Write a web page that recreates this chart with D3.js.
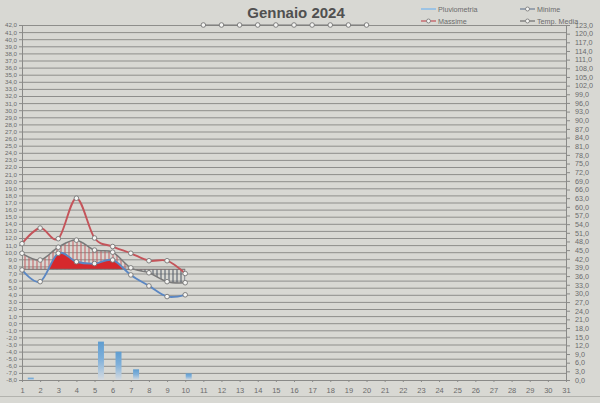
<!DOCTYPE html>
<html><head><meta charset="utf-8">
<script src="https://cdn.jsdelivr.net/npm/d3@7"></script>
<style>
body{margin:0;background:#d8d8d3;}
svg{display:block;font-family:"Liberation Sans",Arial,sans-serif;}
</style>
</head><body>
<svg id="c" width="600" height="403"></svg>
<script>
// ---- data ----
const days = d3.range(1, 32);
const dataDays = [1, 2, 3, 4, 5, 6, 7, 8, 9, 10];
const massime = [11.2, 13.4, 11.9, 17.6, 12.0, 10.8, 9.85, 8.8, 8.8, 7.0];
const minime  = [7.5, 5.85, 9.85, 8.65, 8.4, 8.9, 6.8, 5.25, 3.75, 4.0];
const media   = [9.85, 8.9, 10.7, 11.7, 10.3, 10.0, 7.8, 7.1, 5.85, 5.7];
const normale = [7.6, 7.6, 7.6, 7.6, 7.6, 7.6, 7.6, 7.6, 7.6, 7.6];
const extraDays = [11, 12, 13, 14, 15, 16, 17, 18, 19, 20];
const extraValues = [42, 42, 42, 42, 42, 42, 42, 42, 42, 42];
const pioggiaDays = [1, 5, 6, 7, 10];
const pioggia = [0.8, 13.3, 9.8, 3.7, 2.3];
const leftTicks = d3.range(-8, 43, 1);
const rightTicks = d3.range(0, 124, 3);
const title = "Gennaio 2024";
const legendItems = ["Pluviometria", "Minime", "Massime", "Temp. Media"];

// ---- setup ----
const svg = d3.select("#c");
const X0 = 22, X1 = 566, YT = 25, YB = 380;
const x = d3.scaleLinear().domain([1, 31]).range([X0, X1]);
const xb = d3.scaleBand().domain(days).range([X0, X1]).paddingInner(0.66).paddingOuter(0.33);
const yL = d3.scaleLinear().domain([-8, 42]).range([YB, YT]);
const yR = d3.scaleLinear().domain([0, 123]).range([YB, YT]);
const loc = d3.formatLocale({decimal: ",", thousands: ".", grouping: [3], currency: ["", "€"], minus: "-"});
const fmt = loc.format(".1f");

const defs = svg.append("defs");
const grad = defs.append("linearGradient").attr("id", "barG").attr("x1", 0).attr("y1", 0).attr("x2", 0).attr("y2", 1);
grad.append("stop").attr("offset", "0%").attr("stop-color", "#5f9dd0");
grad.append("stop").attr("offset", "45%").attr("stop-color", "#7fb0da");
grad.append("stop").attr("offset", "100%").attr("stop-color", "#d6dbe0");
function hatch(id, col) {
  const p = defs.append("pattern").attr("id", id).attr("patternUnits", "userSpaceOnUse")
    .attr("width", 4).attr("height", 4);
  p.append("line").attr("x1", 1).attr("x2", 1).attr("y1", 0).attr("y2", 4)
    .attr("stroke", col).attr("stroke-width", 1);
}
hatch("hWarm", "#c25a5e");
hatch("hCold", "#4c5563");
const yN = yL(normale[0]);
defs.append("clipPath").attr("id", "above").append("rect")
  .attr("x", X0).attr("y", YT).attr("width", X1 - X0).attr("height", yN - YT);
defs.append("clipPath").attr("id", "below").append("rect")
  .attr("x", X0).attr("y", yN).attr("width", X1 - X0).attr("height", YB - yN);

// gridlines
svg.append("g").attr("transform", `translate(${X0},0)`)
  .call(d3.axisLeft(yL).tickValues(leftTicks).tickSize(-(X1 - X0)).tickFormat(""))
  .call(g => g.select(".domain").remove())
  .call(g => g.selectAll("line").attr("stroke", "#8e8e8b").attr("stroke-width", 1));

// bars (secondary axis)
svg.append("g").selectAll("rect").data(pioggiaDays).join("rect")
  .attr("x", d => xb(d)).attr("width", xb.bandwidth())
  .attr("y", (d, i) => yR(pioggia[i])).attr("height", (d, i) => YB - yR(pioggia[i]))
  .attr("fill", "url(#barG)");

// hatched areas between media and normale
const curve = d3.curveCardinal.tension(0);
const idx = d3.range(dataDays.length);
const areaM = d3.area().curve(curve)
  .x(i => x(dataDays[i])).y0(i => yL(normale[i])).y1(i => yL(media[i]));
svg.append("path").datum(idx).attr("d", areaM).attr("fill", "url(#hWarm)").attr("clip-path", "url(#above)");
svg.append("path").datum(idx).attr("d", areaM).attr("fill", "url(#hCold)").attr("clip-path", "url(#below)");

// solid red area: minime above normale
const areaMin = d3.area().curve(curve)
  .x(i => x(dataDays[i])).y0(i => yL(normale[i])).y1(i => yL(minime[i]));
svg.append("path").datum(idx).attr("d", areaMin).attr("fill", "#d6282c").attr("clip-path", "url(#above)");

// normale line
svg.append("path").datum(idx)
  .attr("d", d3.line().x(i => x(dataDays[i])).y(i => yL(normale[i])))
  .attr("fill", "none").attr("stroke", "#6e6e6e").attr("stroke-width", 1.2);

// axes
const axL = svg.append("g").attr("transform", `translate(${X0},0)`)
  .call(d3.axisLeft(yL).tickValues(leftTicks).tickSize(3).tickPadding(2).tickFormat(fmt));
const axR = svg.append("g").attr("transform", `translate(${X1},0)`)
  .call(d3.axisRight(yR).tickValues(rightTicks).tickSize(4).tickPadding(5).tickFormat(fmt));
const axB = svg.append("g").attr("transform", `translate(0,${YB})`)
  .call(d3.axisBottom(x).tickValues(days).tickSize(2).tickPadding(6).tickFormat(d3.format("d")));
[axL, axR, axB].forEach(a => {
  a.selectAll(".domain").attr("stroke", "#8a8a88");
  a.selectAll(".tick line").attr("stroke", "#8a8a88");
  a.selectAll("text").attr("fill", "#6b6b6b").attr("font-size", 7.5);
});
axL.selectAll("text").attr("font-size", 6.2);
axR.selectAll("text").attr("font-size", 7.2);

// lines
const line = d3.line().curve(curve);
function series(vals, xs, color, w) {
  const pts = xs.map((d, i) => [x(d), yL(vals[i])]);
  svg.append("path").attr("d", line(pts)).attr("fill", "none")
    .attr("stroke", color).attr("stroke-width", w);
  return pts;
}
const ptsMax = series(massime, dataDays, "#c4545a", 1.9);
const ptsMin = series(minime, dataDays, "#5b87c3", 1.9);
const ptsMed = series(media, dataDays, "#7a7a7a", 1.5);
const ptsExtra = extraDays.map((d, i) => [x(d), yL(extraValues[i])]);
svg.append("path").attr("d", d3.line()(ptsExtra)).attr("fill", "none").attr("stroke", "#777").attr("stroke-width", 1);

[ptsMax, ptsMin, ptsMed, ptsExtra].forEach(pts => {
  svg.append("g").selectAll("circle").data(pts).join("circle")
    .attr("cx", d => d[0]).attr("cy", d => d[1]).attr("r", 2.3)
    .attr("fill", "#f4f4f2").attr("stroke", "#767676").attr("stroke-width", 0.9);
});

// bottom border
svg.append("line").attr("x1", 0).attr("x2", 600).attr("y1", 396.5).attr("y2", 396.5)
  .attr("stroke", "#b3b3ae").attr("stroke-width", 1);

// title
svg.append("text").attr("x", 296).attr("y", 18).attr("text-anchor", "middle")
  .attr("font-size", 15).attr("font-weight", "bold").attr("fill", "#505050")
  .text(title);

// legend
const legPos = [[421, 9], [520, 9], [421, 21], [520, 21]];
const legCol = ["#9cc3e4", "#6f7f96", "#c4545a", "#6e6e6e"];
legendItems.forEach((t, i) => {
  const [lx, ly] = legPos[i];
  const g = svg.append("g");
  g.append("line").attr("x1", lx).attr("x2", lx + 15).attr("y1", ly).attr("y2", ly)
    .attr("stroke", legCol[i]).attr("stroke-width", i === 0 ? 2 : 1.2);
  if (i > 0) g.append("circle").attr("cx", lx + 7.5).attr("cy", ly).attr("r", 2)
    .attr("fill", "#f4f4f2").attr("stroke", "#767676").attr("stroke-width", 0.8);
  g.append("text").attr("x", lx + 17).attr("y", ly + 2.5).attr("font-size", 7.2)
    .attr("fill", "#6b6b6b").text(t);
});
</script>
</body></html>
